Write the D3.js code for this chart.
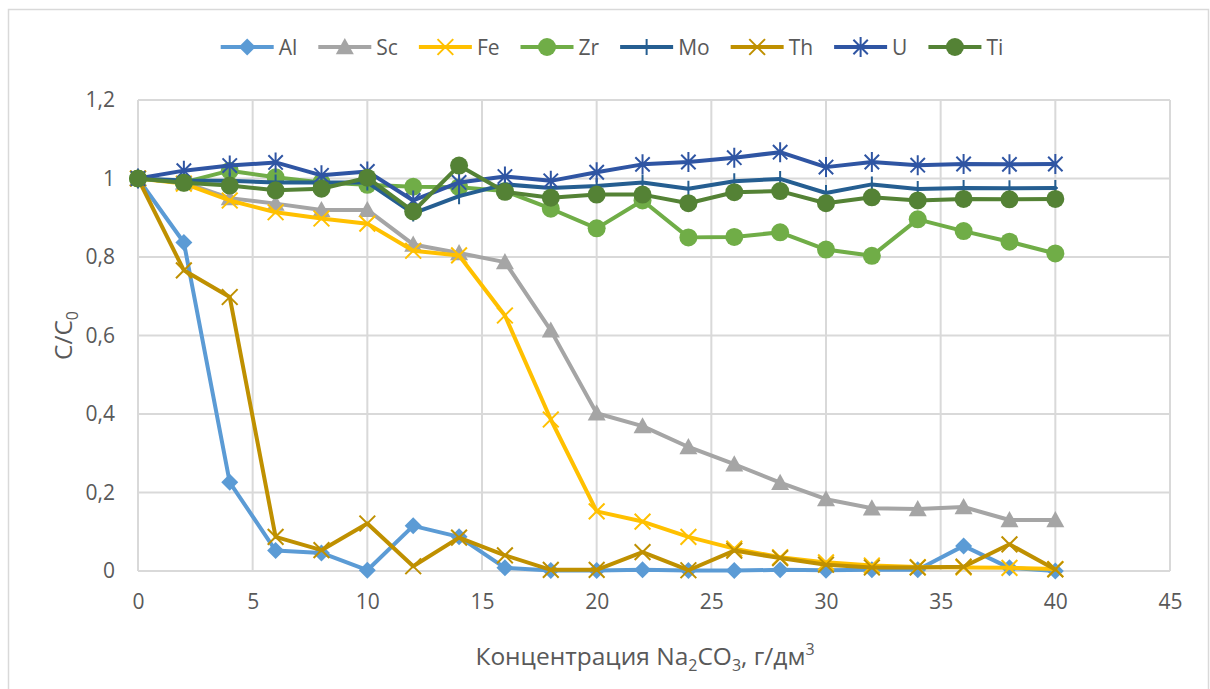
<!DOCTYPE html>
<html>
<head>
<meta charset="utf-8">
<script src="https://cdn.jsdelivr.net/npm/d3@7"></script>
<style>
  html, body { margin: 0; padding: 0; background: #fff; }
  svg { display: block; font-family: "Open Sans", "Noto Sans", sans-serif; }
</style>
</head>
<body>
<svg id="chart" width="1210" height="689"></svg>
<script>
// Concentration of Na2CO3, g/dm3
const concentration = [0, 2, 4, 6, 8, 10, 12, 14, 16, 18, 20, 22, 24, 26, 28, 30, 32, 34, 36, 38, 40];

// Relative concentration C/C0 for each element
const al = [1, 0.837, 0.226, 0.052, 0.046, 0.002, 0.115, 0.087, 0.008, 0.001, 0.001, 0.003, 0.001, 0.001, 0.003, 0.002, 0.003, 0.003, 0.064, 0.008, 0.0];
const sc = [1, 0.99, 0.95, 0.936, 0.92, 0.92, 0.832, 0.81, 0.787, 0.613, 0.402, 0.369, 0.316, 0.272, 0.225, 0.183, 0.16, 0.158, 0.163, 0.13, 0.13];
const fe = [1, 0.987, 0.944, 0.914, 0.898, 0.885, 0.816, 0.804, 0.651, 0.386, 0.152, 0.126, 0.087, 0.057, 0.035, 0.022, 0.014, 0.01, 0.009, 0.008, 0.005];
const zr = [1, 0.99, 1.02, 1.003, 0.99, 0.984, 0.979, 0.978, 0.968, 0.923, 0.873, 0.944, 0.85, 0.851, 0.863, 0.819, 0.803, 0.896, 0.866, 0.839, 0.809];
const mo = [1, 0.995, 0.994, 0.99, 0.99, 0.99, 0.911, 0.955, 0.985, 0.976, 0.981, 0.99, 0.974, 0.993, 0.999, 0.963, 0.985, 0.973, 0.976, 0.975, 0.976];
const th = [1, 0.766, 0.698, 0.087, 0.053, 0.121, 0.012, 0.085, 0.04, 0.003, 0.003, 0.048, 0.002, 0.052, 0.033, 0.016, 0.009, 0.009, 0.011, 0.068, 0.004];
const u  = [1, 1.02, 1.033, 1.041, 1.008, 1.018, 0.944, 0.99, 1.005, 0.994, 1.016, 1.036, 1.042, 1.053, 1.067, 1.029, 1.042, 1.034, 1.037, 1.036, 1.037];
const ti = [1, 0.989, 0.982, 0.97, 0.974, 1.002, 0.916, 1.033, 0.966, 0.951, 0.959, 0.959, 0.937, 0.965, 0.968, 0.937, 0.952, 0.944, 0.948, 0.947, 0.948];

const seriesNames = ["Al", "Sc", "Fe", "Zr", "Mo", "Th", "U", "Ti"];
const seriesValues = [al, sc, fe, zr, mo, th, u, ti];
const seriesColors = ["#5B9BD5", "#A5A5A5", "#FFC000", "#70AD47", "#255E91", "#BF9000", "#2F55A3", "#548235"];
const seriesMarkers = ["diamond", "triangle", "x", "circle", "plus", "x", "star", "circle"];

const xTicks = [0, 5, 10, 15, 20, 25, 30, 35, 40, 45];
const yTicks = [0, 0.2, 0.4, 0.6, 0.8, 1, 1.2];

const svg = d3.select("#chart");
const plot = { left: 138, right: 1170, top: 100, bottom: 571 };

const x = d3.scaleLinear().domain([0, 45]).range([plot.left, plot.right]);
const y = d3.scaleLinear().domain([0, 1.2]).range([plot.bottom, plot.top]);

const gridColor = "#D9D9D9";
const textColor = "#595959";

// outer chart frame
svg.append("rect")
  .attr("x", 8.5).attr("y", 9.5)
  .attr("width", 1200).attr("height", 700)
  .attr("fill", "none").attr("stroke", gridColor).attr("stroke-width", 1.5);

// gridlines
const grid = svg.append("g");
grid.selectAll("line.h").data(yTicks).join("line")
  .attr("class", "h")
  .attr("x1", plot.left).attr("x2", plot.right)
  .attr("y1", d => y(d)).attr("y2", d => y(d))
  .attr("stroke", gridColor).attr("stroke-width", 2);
grid.selectAll("line.v").data(xTicks).join("line")
  .attr("class", "v")
  .attr("y1", plot.top).attr("y2", plot.bottom)
  .attr("x1", d => x(d)).attr("x2", d => x(d))
  .attr("stroke", gridColor).attr("stroke-width", 2);

const fmt = d => String(+d.toFixed(1)).replace(".", ",");

// axes (labels only, no tick marks)
const xAxis = svg.append("g")
  .attr("transform", `translate(0,${plot.bottom})`)
  .call(d3.axisBottom(x).tickValues(xTicks).tickSize(0).tickPadding(23).tickFormat(d => d));
xAxis.select(".domain").remove();
xAxis.selectAll("text").attr("font-size", 21).attr("fill", textColor).attr("font-family", "Open Sans");

const yAxis = svg.append("g")
  .attr("transform", `translate(${plot.left},0)`)
  .call(d3.axisLeft(y).tickValues(yTicks).tickSize(0).tickPadding(23).tickFormat(fmt));
yAxis.select(".domain").remove();
yAxis.selectAll("text").attr("font-size", 21).attr("fill", textColor).attr("font-family", "Open Sans");

// axis titles
const xTitle = svg.append("text")
  .attr("x", (plot.left + plot.right) / 2 - 9).attr("y", 665)
  .attr("text-anchor", "middle").attr("font-size", 24.5).attr("fill", textColor);
xTitle.append("tspan").text("Концентрация Na");
xTitle.append("tspan").attr("font-size", 16).attr("dy", 6).text("2");
xTitle.append("tspan").attr("dy", -6).text("CO");
xTitle.append("tspan").attr("font-size", 16).attr("dy", 6).text("3");
xTitle.append("tspan").attr("dy", -6).text(", г/дм");
xTitle.append("tspan").attr("font-size", 16).attr("dy", -10).text("3");

const yTitle = svg.append("text")
  .attr("transform", `translate(72,${(plot.top + plot.bottom) / 2}) rotate(-90)`)
  .attr("text-anchor", "middle").attr("font-size", 24.5).attr("fill", textColor);
yTitle.append("tspan").text("C/C");
yTitle.append("tspan").attr("font-size", 16).attr("dy", 6).text("0");

// marker drawing
function drawMarker(g, type, color, s) {
  switch (type) {
    case "diamond":
      g.append("path").attr("d", `M0,${-s}L${s},0L0,${s}L${-s},0Z`).attr("fill", color);
      break;
    case "triangle":
      g.append("path").attr("d", `M0,${-s}L${s},${s * 0.8}L${-s},${s * 0.8}Z`).attr("fill", color);
      break;
    case "circle":
      g.append("circle").attr("r", s).attr("fill", color);
      break;
    case "x": {
      const a = s * 0.75;
      g.append("path").attr("d", `M${-a},${-a}L${a},${a}M${-a},${a}L${a},${-a}`)
        .attr("stroke", color).attr("stroke-width", 2).attr("fill", "none");
      break;
    }
    case "plus":
      g.append("path").attr("d", `M0,${-s}L0,${s}M${-s * 0.3},0L${s * 0.3},0`)
        .attr("stroke", color).attr("stroke-width", 2).attr("fill", "none");
      break;
    case "star": {
      const a = s * 0.72;
      g.append("path").attr("d", `M${-a},${-a}L${a},${a}M${-a},${a}L${a},${-a}M0,${-s}L0,${s}`)
        .attr("stroke", color).attr("stroke-width", 2).attr("fill", "none");
      break;
    }
  }
}
const markerSize = { diamond: 8.5, triangle: 9, circle: 9, x: 10.5, plus: 8, star: 10 };

const line = d3.line().x((d, i) => x(concentration[i])).y(d => y(d));

// series: line then markers, in legend order
seriesNames.forEach((name, k) => {
  const g = svg.append("g").attr("class", "series");
  g.append("path")
    .attr("d", line(seriesValues[k]))
    .attr("fill", "none").attr("stroke", seriesColors[k])
    .attr("stroke-width", 4).attr("stroke-linejoin", "round").attr("stroke-linecap", "round");
  seriesValues[k].forEach((v, i) => {
    const m = g.append("g").attr("transform", `translate(${x(concentration[i])},${y(v)})`);
    drawMarker(m, seriesMarkers[k], seriesColors[k], markerSize[seriesMarkers[k]]);
  });
});

// legend
const legend = svg.append("g");
const items = seriesNames.map((name, k) => {
  const g = legend.append("g");
  g.append("line").attr("x1", 0).attr("x2", 53).attr("y1", 0).attr("y2", 0)
    .attr("stroke", seriesColors[k]).attr("stroke-width", 4);
  const m = g.append("g").attr("transform", "translate(26.5,0)");
  drawMarker(m, seriesMarkers[k], seriesColors[k], markerSize[seriesMarkers[k]]);
  const t = g.append("text").attr("x", 58).attr("y", 7.5).attr("font-size", 21).attr("fill", textColor).text(name);
  return { g, w: 58 + t.node().getComputedTextLength() };
});
const gap = 21;
const total = d3.sum(items, d => d.w) + gap * (items.length - 1);
let cx = 612 - total / 2;
items.forEach(it => { it.g.attr("transform", `translate(${cx},47)`); cx += it.w + gap; });
</script>
</body>
</html>
